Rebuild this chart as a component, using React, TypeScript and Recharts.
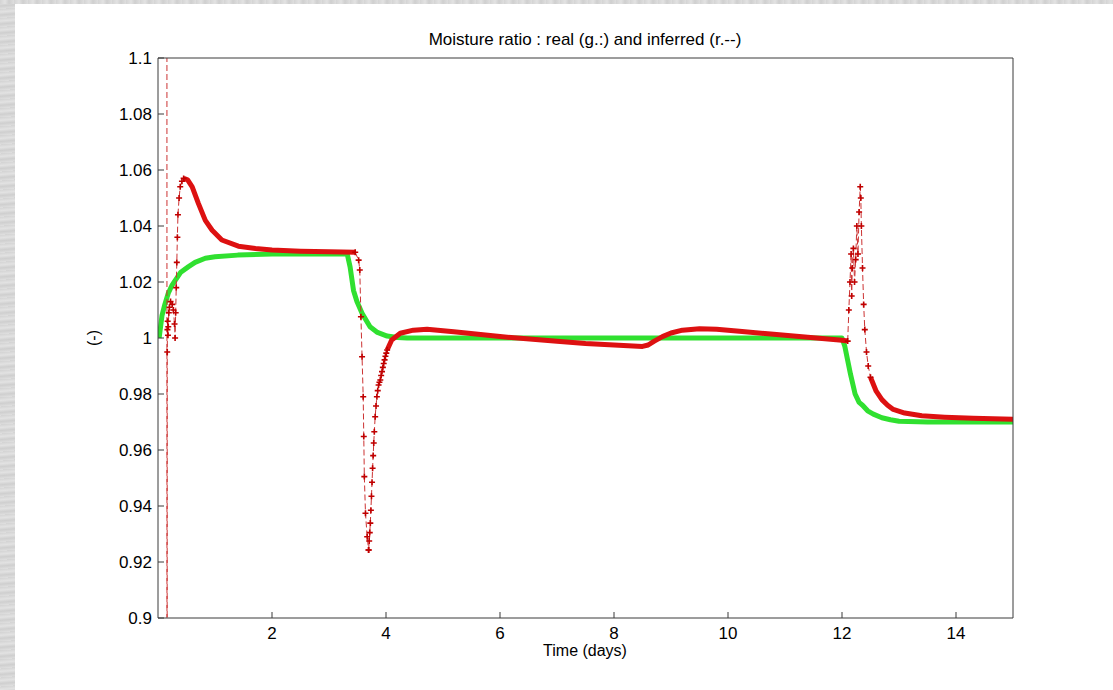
import { LineChart, Line, XAxis, YAxis } from 'recharts'

// real moisture ratio (green, g.:)
const realTime = [
  0.02, 0.07, 0.12, 0.18, 0.25, 0.3, 0.4, 0.53, 0.65, 0.83, 1.0, 1.4, 2.0, 2.6, 3.0, 3.32,
  3.37, 3.43, 3.49, 3.58, 3.72, 3.85, 4.02, 4.2, 4.37, 4.6, 5.0, 6.0, 7.0, 8.0, 9.0, 10.0,
  11.0, 12.0, 12.05, 12.1, 12.15, 12.23, 12.3, 12.36, 12.45, 12.55, 12.7, 12.85, 13.0, 13.5,
  14.0, 15.0,
]
const realValue = [
  1.0, 1.008, 1.012, 1.016, 1.019, 1.0205, 1.0235, 1.0254, 1.027, 1.0285, 1.029, 1.0296, 1.03,
  1.03, 1.03, 1.03, 1.0254, 1.017, 1.013, 1.0088, 1.004, 1.002, 1.0007, 1.0002, 1.0, 1.0, 1.0,
  1.0, 1.0, 1.0, 1.0, 1.0, 1.0, 1.0, 0.997, 0.992, 0.987, 0.98, 0.977, 0.976, 0.974, 0.9728,
  0.9715, 0.9708, 0.9703, 0.97, 0.97, 0.97,
]

// inferred moisture ratio (red, r.--) : noisy start
const inferredStartTime = [
  0.156, 0.158, 0.162, 0.166, 0.17, 0.175, 0.18, 0.19, 0.2, 0.22, 0.25, 0.27, 0.29, 0.3, 0.31,
  0.32, 0.33, 0.34, 0.35, 0.37, 0.39, 0.42, 0.45,
]
const inferredStartValue = [
  1.3, 0.7, 0.995, 1.003, 1.006, 1.001, 1.004, 1.009, 1.011, 1.013, 1.012, 1.01, 1.005, 1.0,
  1.009, 1.018, 1.027, 1.036, 1.044, 1.05, 1.054, 1.056, 1.057,
]

// smooth part before the first step
const inferredPart1Time = [0.45, 0.52, 0.6, 0.71, 0.83, 0.95, 1.12, 1.41, 1.71, 2.0, 2.5, 3.0, 3.46]
const inferredPart1Value = [
  1.057, 1.0565, 1.054, 1.048, 1.042, 1.0385, 1.035, 1.0328, 1.032, 1.0314, 1.031, 1.0308, 1.0306,
]

// fall after the step at day 3.5
const inferredFallTime = [
  3.46, 3.52, 3.54, 3.56, 3.58, 3.6, 3.61, 3.62, 3.64, 3.67, 3.695,
]
const inferredFallValue = [
  1.0306, 1.0278, 1.0243, 1.0076, 0.9933, 0.979, 0.9648, 0.9505, 0.9374, 0.929, 0.9243,
]

// recovery from the undershoot
const inferredRiseTime = [
  3.695, 3.705, 3.715, 3.725, 3.735, 3.745, 3.755, 3.765, 3.775, 3.785, 3.795, 3.81, 3.825,
  3.84, 3.855, 3.87, 3.885, 3.9, 3.915, 3.93, 3.945, 3.96, 3.975, 3.99, 4.005, 4.02,
]
const inferredRiseValue = [
  0.9243, 0.9275, 0.9305, 0.9339, 0.9385, 0.9435, 0.9485, 0.9535, 0.958, 0.9625, 0.9665, 0.9719,
  0.9757, 0.979, 0.9812, 0.9832, 0.9842, 0.985, 0.9866, 0.988, 0.9895, 0.9909, 0.9922, 0.9935,
  0.9946, 0.9957,
]

// smooth middle part
const inferredPart2Time = [
  4.02, 4.1, 4.25, 4.48, 4.72, 5.19, 6.0, 6.36, 7.0, 7.5, 8.0, 8.5, 8.6, 8.7, 8.85, 9.0, 9.2,
  9.5, 9.8, 10.2, 10.8, 11.4, 12.0, 12.1,
]
const inferredPart2Value = [
  0.9957, 0.9993, 1.0017, 1.0028, 1.0031, 1.0022, 1.0005, 0.9999, 0.9988, 0.998, 0.9975, 0.997,
  0.9975, 0.9988, 1.0005, 1.0018, 1.0028, 1.0033, 1.0031, 1.0024, 1.0013, 1.0003, 0.9992,
  0.9989,
]

// overshoot after the step at day 12
const inferredSpikeTime = [
  12.1, 12.12, 12.14, 12.16, 12.17, 12.18, 12.2, 12.22, 12.24, 12.26, 12.28, 12.3, 12.32, 12.33,
  12.34, 12.36, 12.38, 12.4, 12.43, 12.46, 12.5,
]
const inferredSpikeValue = [
  0.9989, 1.01, 1.02, 1.03, 1.015, 1.025, 1.032, 1.02, 1.028, 1.04, 1.03, 1.045, 1.054, 1.05,
  1.04, 1.025, 1.012, 1.003, 0.995, 0.99, 0.986,
]

// smooth tail
const inferredPart3Time = [12.5, 12.6, 12.7, 12.8, 12.9, 13.1, 13.4, 13.8, 14.3, 15.0]
const inferredPart3Value = [0.986, 0.981, 0.978, 0.976, 0.9745, 0.9732, 0.9722, 0.9717, 0.9713, 0.971]

const timeTicks = [2, 4, 6, 8, 10, 12, 14]
const ratioTicks = [0.9, 0.92, 0.94, 0.96, 0.98, 1.0, 1.02, 1.04, 1.06, 1.08, 1.1]

const toPoints = (t: number[], v: number[]) => t.map((x, i) => ({ t: x, v: v[i] }))

const FONT = '"Liberation Sans", Arial, Helvetica, sans-serif'
const AXIS = '#3a3a3a'
const GREEN = '#30e030'
const RED = '#dd1111'

const PlusDot = (props: any) => {
  const { cx, cy, index } = props
  if (cx == null || cy == null) return <g key={index} />
  return (
    <path
      key={index}
      d={`M${cx - 3},${cy}H${cx + 3}M${cx},${cy - 3}V${cy + 3}`}
      stroke="#c00000"
      strokeWidth={1.6}
      fill="none"
    />
  )
}

const fmtRatio = (v: number) => String(Number(v.toFixed(2)))

export default function App() {
  const thick = (data: { t: number; v: number }[], key: string) => (
    <Line
      key={key}
      data={data}
      dataKey="v"
      stroke={RED}
      strokeWidth={5}
      strokeLinejoin="round"
      dot={false}
      isAnimationActive={false}
    />
  )
  const noisy = (data: { t: number; v: number }[], key: string) => (
    <Line
      key={key}
      data={data}
      dataKey="v"
      stroke="#cc3333"
      strokeWidth={1}
      strokeDasharray="6 3"
      dot={PlusDot}
      isAnimationActive={false}
    />
  )

  return (
    <div
      style={{
        position: 'absolute',
        left: 0,
        top: 0,
        width: 1113,
        height: 690,
        background: '#fff',
        fontFamily: FONT,
        overflow: 'hidden',
      }}
    >
      <div
        style={{
          position: 'absolute',
          left: 0,
          top: 0,
          width: 15,
          height: 690,
          background:
            'repeating-linear-gradient(175deg, #d4d4d4 0px, #e2e2e2 3px, #cfcfcf 6px, #dedede 9px)',
        }}
      />
      <div
        style={{
          position: 'absolute',
          left: 0,
          top: 0,
          width: 1113,
          height: 4,
          background:
            'repeating-linear-gradient(90deg, #d4d4d4 0px, #e2e2e2 5px, #cfcfcf 9px, #dedede 14px)',
        }}
      />
      <div style={{ position: 'absolute', left: 0, top: 0 }}>
        <LineChart width={1113} height={690} margin={{ top: 58, right: 100, bottom: 42, left: 98 }}>
          <XAxis
            dataKey="t"
            type="number"
            domain={[0, 15]}
            ticks={timeTicks}
            interval={0}
            height={30}
            tickSize={-6}
            tickMargin={15}
            stroke={AXIS}
            tick={{ fill: '#000', fontSize: 17, fontFamily: FONT }}
            allowDataOverflow
          />
          <XAxis
            xAxisId="top"
            orientation="top"
            type="number"
            domain={[0, 15]}
            ticks={timeTicks}
            interval={0}
            mirror
            tickSize={6}
            tickFormatter={() => ''}
            stroke={AXIS}
          />
          <YAxis
            type="number"
            domain={[0.9, 1.1]}
            ticks={ratioTicks}
            interval={0}
            width={60}
            tickSize={-6}
            tickMargin={12}
            tickFormatter={fmtRatio}
            stroke={AXIS}
            tick={{ fill: '#000', fontSize: 17, fontFamily: FONT }}
            allowDataOverflow
          />
          <YAxis
            yAxisId="right"
            orientation="right"
            type="number"
            domain={[0.9, 1.1]}
            ticks={ratioTicks}
            interval={0}
            mirror
            tickSize={6}
            tickFormatter={() => ''}
            stroke={AXIS}
          />
          <Line
            data={toPoints(realTime, realValue)}
            dataKey="v"
            stroke={GREEN}
            strokeWidth={5}
            strokeLinejoin="round"
            dot={false}
            isAnimationActive={false}
          />
          {noisy(toPoints(inferredStartTime, inferredStartValue), 'start')}
          {thick(toPoints(inferredPart1Time, inferredPart1Value), 'p1')}
          {noisy(toPoints(inferredFallTime, inferredFallValue), 'fall')}
          {noisy(toPoints(inferredRiseTime, inferredRiseValue), 'rise')}
          {thick(toPoints(inferredPart2Time, inferredPart2Value), 'p2')}
          {noisy(toPoints(inferredSpikeTime, inferredSpikeValue), 'spike')}
          {thick(toPoints(inferredPart3Time, inferredPart3Value), 'p3')}
        </LineChart>
      </div>
      <div
        style={{
          position: 'absolute',
          left: 285,
          width: 600,
          top: 31,
          textAlign: 'center',
          fontSize: 17,
          lineHeight: '18px',
          color: '#000',
        }}
      >
        Moisture ratio : real (g.:) and inferred (r.--)
      </div>
      <div
        style={{
          position: 'absolute',
          left: 485,
          width: 200,
          top: 642,
          textAlign: 'center',
          fontSize: 16,
          lineHeight: '18px',
          color: '#000',
        }}
      >
        Time (days)
      </div>
      <div
        style={{
          position: 'absolute',
          left: 64,
          top: 329,
          width: 60,
          height: 18,
          textAlign: 'center',
          fontSize: 16,
          lineHeight: '18px',
          color: '#000',
          transform: 'rotate(-90deg)',
        }}
      >
        (-)
      </div>
    </div>
  )
}
